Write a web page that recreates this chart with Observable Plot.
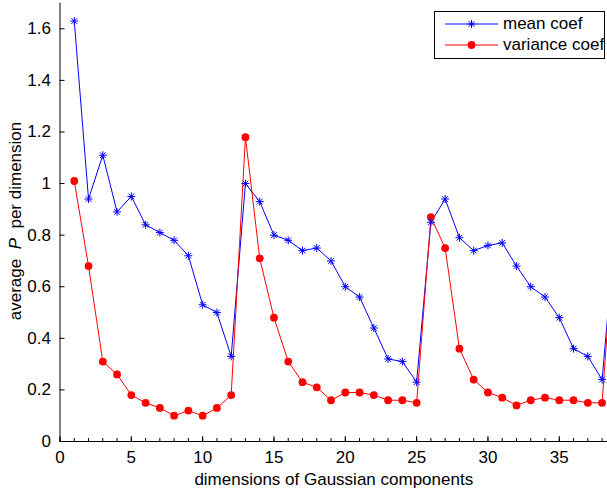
<!DOCTYPE html>
<html>
<head>
<meta charset="utf-8">
<script src="https://cdn.jsdelivr.net/npm/d3@7"></script>
<script src="https://cdn.jsdelivr.net/npm/@observablehq/plot@0.6"></script>
<style>
  body { margin: 0; background: #fff; }
  #wrap { position: relative; width: 607px; height: 489px; font-family: "Liberation Sans", Arial, sans-serif; }
  #legend { position: absolute; left: 434px; top: 11px; width: 169px; height: 46px; border: 1.5px solid #000; background: #fff; font-size: 17px; }
  #legend .row { position: absolute; left: 0; height: 20px; display: flex; align-items: center; }
  #legend svg { display: block; }
  #legend span { margin-left: 5px; color: #000; white-space: nowrap; }
</style>
</head>
<body>
<div id="wrap"></div>
<script>
const dims = [1,2,3,4,5,6,7,8,9,10,11,12,13,14,15,16,17,18,19,20,21,22,23,24,25,26,27,28,29,30,31,32,33,34,35,36,37,38,39];
const meanCoef = [1.63,0.94,1.11,0.89,0.95,0.84,0.81,0.78,0.72,0.53,0.50,0.33,
                  1.00,0.93,0.80,0.78,0.74,0.75,0.70,0.60,0.56,0.44,0.32,0.31,0.23,
                  0.85,0.94,0.79,0.74,0.76,0.77,0.68,0.60,0.56,0.48,0.36,0.33,0.24,0.87];
const varianceCoef = [1.01,0.68,0.31,0.26,0.18,0.15,0.13,0.10,0.12,0.10,0.13,0.18,
                      1.18,0.71,0.48,0.31,0.23,0.21,0.16,0.19,0.19,0.18,0.16,0.16,0.15,
                      0.87,0.75,0.36,0.24,0.19,0.17,0.14,0.16,0.17,0.16,0.16,0.15,0.15,0.92];
const seriesNames = ["mean coef", "variance coef"];
const xMajorTicks = [0,5,10,15,20,25,30,35];
const xMinorTicks = d3.range(0, 39, 1);
const yTicks = [0,0.2,0.4,0.6,0.8,1,1.2,1.4,1.6];

const meanData = dims.map((d, i) => ({dim: d, value: meanCoef[i]}));
const varData = dims.map((d, i) => ({dim: d, value: varianceCoef[i]}));

const asterisk = {
  draw(context, size) {
    const r = Math.sqrt(size / Math.PI);
    const s = r * Math.SQRT1_2;
    context.moveTo(-r, 0); context.lineTo(r, 0);
    context.moveTo(0, -r); context.lineTo(0, r);
    context.moveTo(-s, -s); context.lineTo(s, s);
    context.moveTo(-s, s); context.lineTo(s, -s);
  }
};

const plot = Plot.plot({
  width: 607,
  height: 489,
  marginLeft: 59.5,
  marginRight: 0,
  marginTop: 2.5,
  marginBottom: 48,
  style: {fontFamily: "'Liberation Sans', Arial, sans-serif", fontSize: "17px", color: "#000", background: "#fff"},
  x: {domain: [0, 38.38]},
  y: {domain: [0, 1.7]},
  marks: [
    Plot.line(meanData, {x: "dim", y: "value", stroke: "#0000ff", strokeWidth: 1, clip: true}),
    Plot.line(varData, {x: "dim", y: "value", stroke: "#ff0000", strokeWidth: 1, clip: true}),
    Plot.dot(varData, {x: "dim", y: "value", r: 3.9, fill: "#ff0000", stroke: "none", clip: true}),
    Plot.dot(meanData, {x: "dim", y: "value", r: 4, symbol: asterisk, stroke: "#0000ff", strokeWidth: 1, fill: "none", clip: true}),
    Plot.axisX({ticks: xMinorTicks, tickSize: -3, tickFormat: () => "", label: null, strokeWidth: 1}),
    Plot.axisX({ticks: xMajorTicks, tickSize: -5, tickFormat: () => "", label: null, strokeWidth: 1}),
    Plot.axisX({ticks: xMajorTicks, tickSize: 0, tickPadding: 9, tickFormat: d => String(d), fontSize: 17,
                label: "dimensions of Gaussian components", labelAnchor: "center", labelArrow: "none", labelOffset: 43}),
    Plot.axisY({ticks: yTicks, tickSize: -5, tickFormat: () => "", label: null, strokeWidth: 1}),
    Plot.axisY({ticks: yTicks, tickSize: 0, tickPadding: 9, tickFormat: d => String(d), fontSize: 17, label: null}),
    Plot.ruleX([0], {stroke: "#000", strokeWidth: 1}),
    Plot.ruleY([0], {stroke: "#000", strokeWidth: 1})
  ]
});

const wrap = document.getElementById("wrap");
wrap.appendChild(plot);

// Y-axis title with italic P
const svgNS = "http://www.w3.org/2000/svg";
const yLabel = document.createElementNS(svgNS, "text");
yLabel.setAttribute("transform", "translate(21,221) rotate(-90)");
yLabel.setAttribute("text-anchor", "middle");
yLabel.setAttribute("font-size", "17");
yLabel.setAttribute("font-family", "'Liberation Sans', Arial, sans-serif");
yLabel.setAttribute("fill", "#000");
const t1 = document.createElementNS(svgNS, "tspan"); t1.textContent = "average  ";
const t2 = document.createElementNS(svgNS, "tspan"); t2.textContent = "P"; t2.setAttribute("font-style", "italic");
const t3 = document.createElementNS(svgNS, "tspan"); t3.textContent = "  per dimension";
yLabel.append(t1, t2, t3);
yLabel.style.whiteSpace = "pre";
plot.appendChild(yLabel);

// Legend
const legend = document.createElement("div");
legend.id = "legend";
const colors = ["#0000ff", "#ff0000"];
seriesNames.forEach((name, i) => {
  const row = document.createElement("div");
  row.className = "row";
  row.style.top = (i === 0 ? 1.5 : 22.5) + "px";
  row.style.left = "10px";
  const s = document.createElementNS(svgNS, "svg");
  s.setAttribute("width", 53); s.setAttribute("height", 20);
  const ln = document.createElementNS(svgNS, "line");
  ln.setAttribute("x1", 0); ln.setAttribute("x2", 53); ln.setAttribute("y1", 10); ln.setAttribute("y2", 10);
  ln.setAttribute("stroke", colors[i]); ln.setAttribute("stroke-width", 1);
  s.appendChild(ln);
  if (i === 0) {
    const p = document.createElementNS(svgNS, "path");
    const r = 4, q = r * Math.SQRT1_2, cx = 26.5, cy = 10;
    p.setAttribute("d", `M${cx-r},${cy}L${cx+r},${cy}M${cx},${cy-r}L${cx},${cy+r}M${cx-q},${cy-q}L${cx+q},${cy+q}M${cx-q},${cy+q}L${cx+q},${cy-q}`);
    p.setAttribute("stroke", colors[i]); p.setAttribute("fill", "none");
    s.appendChild(p);
  } else {
    const c = document.createElementNS(svgNS, "circle");
    c.setAttribute("cx", 26.5); c.setAttribute("cy", 10); c.setAttribute("r", 3.9);
    c.setAttribute("fill", colors[i]);
    s.appendChild(c);
  }
  const label = document.createElement("span");
  label.textContent = name;
  row.append(s, label);
  legend.appendChild(row);
});
wrap.appendChild(legend);
</script>
</body>
</html>
